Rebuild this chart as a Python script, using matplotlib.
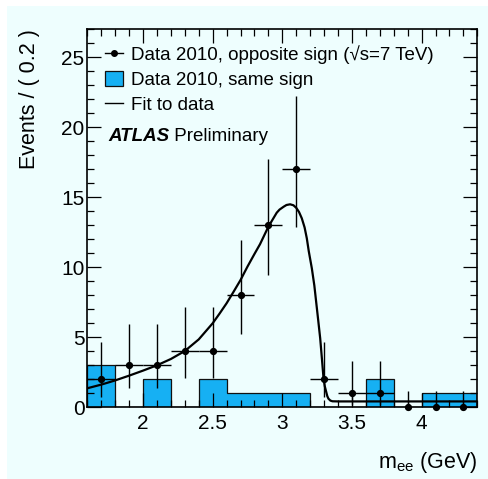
import matplotlib

matplotlib.use("Agg")
import matplotlib.pyplot as plt
import numpy as np
from matplotlib.lines import Line2D
from matplotlib.patches import Patch, Rectangle
from matplotlib.ticker import MultipleLocator

# ---------------------------------------------------------------- data
EDGES = [1.6, 1.8, 2.0, 2.2, 2.4, 2.6, 2.8, 3.0, 3.2, 3.4, 3.6, 3.8, 4.0, 4.2, 4.4]
OPP_X = [1.7, 1.9, 2.1, 2.3, 2.5, 2.7, 2.9, 3.1, 3.3, 3.5, 3.7, 3.9, 4.1, 4.3]
OPP_N = [2, 3, 3, 4, 4, 8, 13, 17, 2, 1, 1, 0, 0, 0]
OPP_ELO = [1.29, 1.63, 1.63, 1.91, 1.91, 2.79, 3.58, 4.12, 1.29, 0.83, 0.83, 0.0, 0.0, 0.0]
OPP_EHI = [2.64, 2.92, 2.92, 3.16, 3.16, 3.95, 4.71, 5.22, 2.64, 2.30, 2.30, 1.15, 1.15, 1.15]
SAME_N = [3, 0, 2, 0, 2, 1, 1, 1, 0, 0, 2, 0, 1, 1]

FIT_X = [1.60, 1.70, 1.80, 1.90, 2.00, 2.10, 2.20, 2.30, 2.40, 2.50, 2.55, 2.60, 2.65,
         2.70, 2.75, 2.80, 2.84, 2.90, 2.96, 2.98, 3.01, 3.03, 3.056, 3.08, 3.10, 3.12,
         3.14, 3.16, 3.176, 3.19, 3.212, 3.23, 3.243, 3.258, 3.272, 3.285, 3.296, 3.305,
         3.315, 3.323, 3.331, 3.345, 3.36, 3.40, 4.40]
FIT_Y = [1.36, 1.62, 1.92, 2.26, 2.62, 3.00, 3.45, 4.02, 4.85, 6.00, 6.70, 7.43, 8.25,
         9.09, 10.05, 10.95, 11.65, 12.90, 13.90, 14.12, 14.33, 14.45, 14.50, 14.43,
         14.25, 13.95, 13.50, 12.85, 12.07, 11.15, 9.93, 8.70, 7.54, 6.20, 4.93, 3.40,
         2.07, 1.50, 1.11, 0.80, 0.62, 0.48, 0.43, 0.42, 0.42]

BG = "#eefefe"
BLUE = "#16b0f3"

plt.rcParams["font.family"] = ["Liberation Sans", "DejaVu Sans"]
plt.rcParams["mathtext.fontset"] = "custom"
plt.rcParams["mathtext.rm"] = "Liberation Sans"
plt.rcParams["mathtext.it"] = "Liberation Sans:italic"
plt.rcParams["mathtext.bf"] = "Liberation Sans:bold"

fig = plt.figure(figsize=(4.89, 4.79), dpi=100, facecolor="white")
fig.patches.append(Rectangle((7 / 489, 0), 1, 1 - 6 / 479, transform=fig.transFigure,
                             facecolor=BG, edgecolor="none", zorder=-10))
ax = fig.add_axes([87.3 / 489, 1 - 407.3 / 479, 390 / 489, 378 / 479])
ax.set_facecolor(BG)

# same-sign histogram
ax.stairs(SAME_N, EDGES, fill=True, facecolor=BLUE, edgecolor="none", zorder=1)
ax.stairs(SAME_N, EDGES, baseline=0, color="#111111", lw=0.9, zorder=1.1)

# fit
ax.plot(FIT_X, FIT_Y, color="black", lw=1.6, zorder=3, solid_joinstyle="round")

# opposite-sign data: horizontal bars only for non-empty bins
x = np.array(OPP_X)
n = np.array(OPP_N)
elo = np.array(OPP_ELO)
ehi = np.array(OPP_EHI)
nz = n > 0
ax.errorbar(x[nz], n[nz], xerr=0.1, yerr=[elo[nz], ehi[nz]], fmt="o", color="black",
            ms=4.2, elinewidth=1.0, capsize=0, zorder=4)
ax.errorbar(x[~nz], n[~nz], yerr=[elo[~nz], ehi[~nz]], fmt="o", color="black",
            ms=4.2, elinewidth=1.0, capsize=0, zorder=4, clip_on=False)

ax.set_xlim(1.6, 4.4)
ax.set_ylim(0, 27)
ax.xaxis.set_major_locator(MultipleLocator(0.5))
ax.xaxis.set_minor_locator(MultipleLocator(0.1))
ax.yaxis.set_major_locator(MultipleLocator(5))
ax.yaxis.set_minor_locator(MultipleLocator(1))
ax.set_xticks([2, 2.5, 3, 3.5, 4])
ax.set_xticklabels(["2", "2.5", "3", "3.5", "4"])
ax.tick_params(which="both", direction="in", top=True, right=True, width=0.9,
               labelsize=15, colors="black")
ax.tick_params(which="major", length=10)
ax.tick_params(which="minor", length=5)
ax.tick_params(axis="x", pad=5)
ax.tick_params(axis="y", pad=2)
for s in ax.spines.values():
    s.set_linewidth(1.2)
    s.set_zorder(5)

ax.set_ylabel("Events / ( 0.2 )", fontsize=15.5, loc="top")
ax.yaxis.set_label_coords(-0.121, 1.0)
ax.set_xlabel(r"m$_{\rm ee}$ (GeV)", fontsize=15.5, loc="right")
ax.xaxis.set_label_coords(1.0, -0.112)

handles = [Line2D([], [], color="black", marker="o", ms=4, lw=1.0),
           Patch(facecolor=BLUE, edgecolor="#111111", lw=0.9),
           Line2D([], [], color="black", lw=1.0)]
labels = ["Data 2010, opposite sign (\u221as=7 TeV)",
          "Data 2010, same sign", "Fit to data"]
ax.legend(handles, labels, loc="upper left", bbox_to_anchor=(0.045, 0.958), frameon=False,
          fontsize=13.5, handlelength=0.95, handleheight=0.9, handletextpad=0.45,
          labelspacing=0.36, borderpad=0, borderaxespad=0)

t = ax.text(0.053, 0.695, "ATLAS", transform=ax.transAxes, fontsize=13.5,
            fontweight="bold", fontstyle="italic", va="bottom", ha="left")
ax.annotate(" Preliminary", xy=(1, 0), xycoords=t, fontsize=13.5, va="bottom", ha="left")

fig.savefig("out.png", dpi=100, facecolor=fig.get_facecolor())
